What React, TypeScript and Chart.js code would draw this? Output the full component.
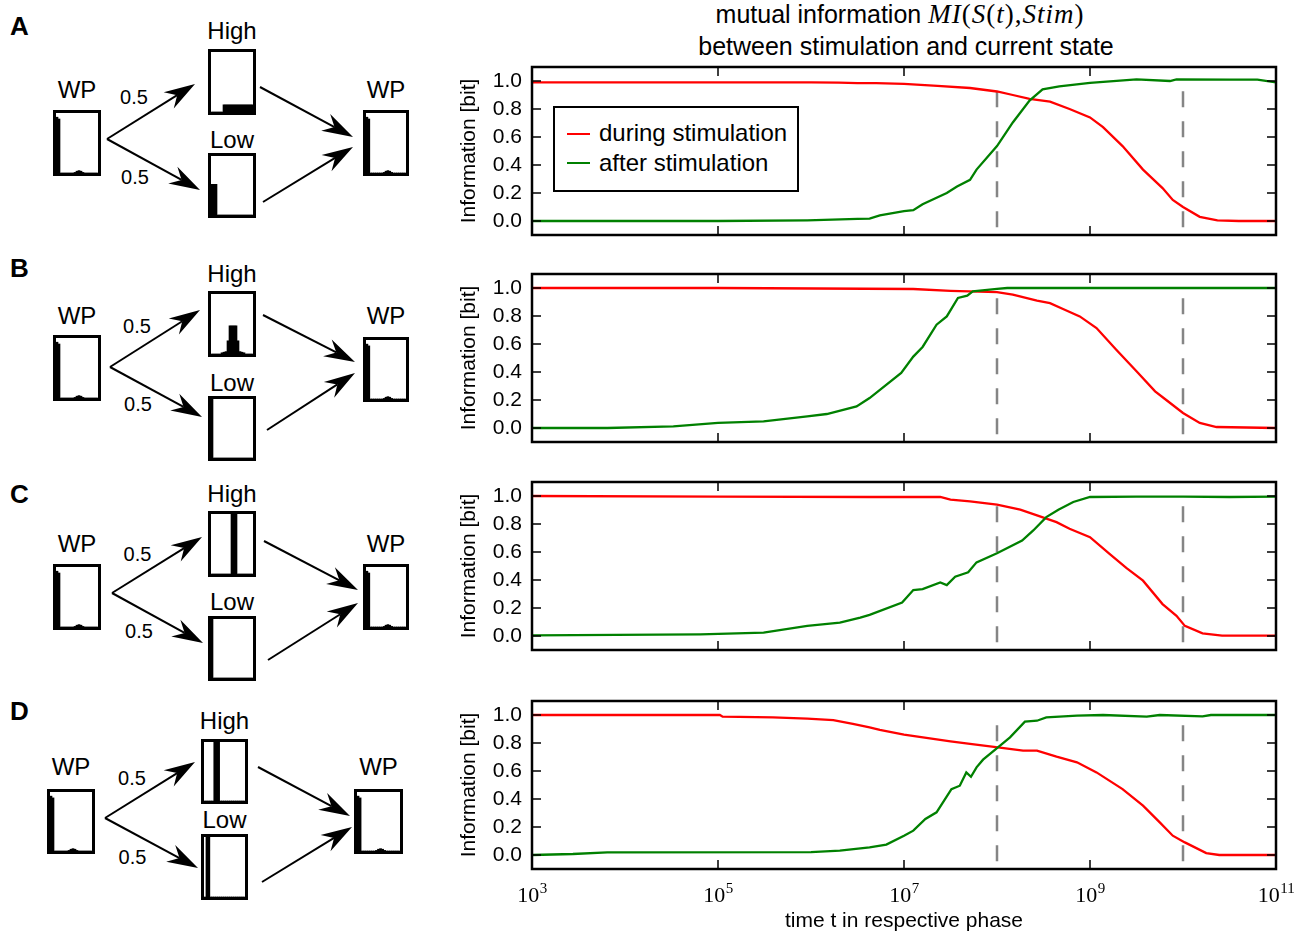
import React, { useEffect, useRef } from 'react';
import { Chart, registerables } from 'chart.js';
Chart.register(...registerables);

const SANS = '"Liberation Sans", Arial, Helvetica, sans-serif';
const SERIF = '"Liberation Serif", "Times New Roman", serif';

// ---------------- data ----------------
const X_TICKS = [1e3, 1e5, 1e7, 1e9, 1e11];
const Y_TICKS = [0, 0.2, 0.4, 0.6, 0.8, 1.0];
const PHASE_MARKS = [1e8, 1e10];
const PHASE_MARK_SPAN = [-0.045, 1.0];

// log10(t) positions and information values
const A_RED_LOGT = [3, 4, 5, 6, 6.3, 6.5, 6.7, 7.0, 7.36, 7.71, 8.0, 8.17, 8.35, 8.57, 8.78, 9.0, 9.14, 9.35, 9.57, 9.78, 9.89, 10.0, 10.18, 10.37, 10.6, 11];
const A_RED = [0.99, 0.99, 0.99, 0.99, 0.988, 0.985, 0.985, 0.98, 0.965, 0.95, 0.925, 0.9, 0.873, 0.853, 0.8, 0.74, 0.67, 0.535, 0.367, 0.235, 0.15, 0.1, 0.03, 0.005, 0.0, 0.0];
const A_GREEN_LOGT = [3, 4, 5, 5.96, 6.5, 6.63, 6.74, 7.0, 7.1, 7.2, 7.46, 7.57, 7.71, 7.78, 8.0, 8.17, 8.35, 8.49, 8.67, 9.0, 9.5, 9.86, 9.93, 10.5, 10.8, 11];
const A_GREEN = [0.0, 0.0, 0.0, 0.005, 0.015, 0.017, 0.04, 0.07, 0.077, 0.12, 0.2, 0.246, 0.294, 0.367, 0.535, 0.704, 0.86, 0.94, 0.962, 0.986, 1.012, 1.0, 1.012, 1.01, 1.01, 0.99];

const B_RED_LOGT = [3, 5, 7.1, 7.5, 8.0, 8.17, 8.43, 8.57, 8.71, 8.89, 9.07, 9.28, 9.5, 9.7, 9.82, 10.0, 10.18, 10.36, 11];
const B_RED = [1.0, 1.0, 0.993, 0.98, 0.971, 0.952, 0.909, 0.892, 0.85, 0.797, 0.714, 0.56, 0.405, 0.262, 0.2, 0.107, 0.036, 0.007, 0.0];
const B_GREEN_LOGT = [3, 3.81, 4.52, 5.0, 5.49, 5.96, 6.17, 6.49, 6.63, 6.97, 7.1, 7.2, 7.35, 7.46, 7.58, 7.68, 7.74, 8.0, 8.11, 11];
const B_GREEN = [0.0, 0.0, 0.012, 0.036, 0.047, 0.083, 0.1, 0.154, 0.214, 0.393, 0.51, 0.579, 0.738, 0.797, 0.929, 0.945, 0.976, 0.993, 1.0, 1.0];

const C_RED_LOGT = [3, 5, 6.63, 7.39, 7.5, 7.71, 8.0, 8.25, 8.43, 8.64, 8.78, 9.0, 9.21, 9.39, 9.57, 9.78, 9.93, 10.02, 10.21, 10.42, 11];
const C_RED = [1.0, 0.995, 0.993, 0.993, 0.974, 0.962, 0.938, 0.902, 0.861, 0.813, 0.766, 0.706, 0.587, 0.486, 0.395, 0.228, 0.144, 0.072, 0.019, 0.003, 0.003];
const C_GREEN_LOGT = [3, 4.81, 5.49, 5.96, 6.31, 6.53, 6.63, 6.98, 7.1, 7.2, 7.39, 7.46, 7.55, 7.69, 7.78, 8.0, 8.27, 8.39, 8.53, 8.66, 8.82, 9.0, 9.5, 10.0, 10.5, 11];
const C_GREEN = [0.005, 0.012, 0.024, 0.072, 0.096, 0.131, 0.151, 0.239, 0.328, 0.335, 0.383, 0.364, 0.424, 0.455, 0.526, 0.591, 0.682, 0.754, 0.849, 0.902, 0.957, 0.993, 0.995, 0.995, 0.993, 0.995];

const D_RED_LOGT = [3, 5.02, 5.05, 5.59, 5.96, 6.24, 6.45, 6.63, 6.74, 7.0, 7.5, 7.71, 8.01, 8.28, 8.43, 8.64, 8.86, 9.07, 9.35, 9.57, 9.75, 9.89, 10.02, 10.25, 10.39, 11];
const D_RED = [1.0, 1.0, 0.988, 0.983, 0.974, 0.964, 0.936, 0.911, 0.893, 0.859, 0.811, 0.793, 0.769, 0.745, 0.745, 0.702, 0.662, 0.59, 0.471, 0.352, 0.233, 0.138, 0.09, 0.014, 0.0, 0.0];
const D_GREEN_LOGT = [3, 3.44, 3.81, 6.0, 6.31, 6.63, 6.81, 7.0, 7.1, 7.23, 7.35, 7.51, 7.6, 7.67, 7.72, 7.78, 7.85, 8.01, 8.14, 8.3, 8.43, 8.53, 8.86, 9.14, 9.61, 9.75, 10.21, 10.3, 11];
const D_GREEN = [0.0, 0.007, 0.019, 0.02, 0.031, 0.054, 0.074, 0.138, 0.174, 0.257, 0.305, 0.471, 0.495, 0.59, 0.559, 0.626, 0.681, 0.769, 0.84, 0.952, 0.959, 0.983, 0.995, 1.0, 0.988, 1.0, 0.99, 1.0, 1.0];

// histograms (21 bins across each state box)
const WP_HIST = [0.93, 0.9, 0, 0, 0, 0, 0, 0, 0, 0.01, 0.03, 0.04, 0.03, 0.01, 0, 0, 0, 0, 0, 0, 0];
const A_HIGH_HIST = [0, 0, 0, 0, 0, 0, 0.12, 0.12, 0.12, 0.12, 0.12, 0.12, 0.12, 0.12, 0.12, 0.12, 0.12, 0.12, 0.12, 0.12, 0.12];
const A_LOW_HIST = [0.52, 0.52, 0.52, 0, 0, 0, 0, 0, 0, 0, 0, 0, 0, 0, 0, 0, 0, 0, 0, 0, 0];
const B_HIGH_HIST = [0, 0, 0, 0, 0, 0.02, 0.03, 0.04, 0.22, 0.47, 0.47, 0.47, 0.47, 0.22, 0.04, 0.03, 0.02, 0, 0, 0, 0];
const B_LOW_HIST = [1, 0, 0, 0, 0, 0, 0, 0, 0, 0, 0, 0, 0, 0, 0, 0, 0, 0, 0, 0, 0];
const C_HIGH_HIST = [0, 0, 0, 0, 0, 0, 0, 0, 0, 0, 1, 1, 1, 0, 0, 0, 0, 0, 0, 0, 0];
const C_LOW_HIST = [1, 0, 0, 0, 0, 0, 0, 0, 0, 0, 0, 0, 0, 0, 0, 0, 0, 0, 0, 0, 0];
const D_HIGH_HIST = [0, 0, 0, 0, 0, 1, 1, 1, 0, 0, 0, 0, 0, 0, 0, 0, 0, 0, 0, 0, 0];
const D_LOW_HIST = [0, 1, 1, 0, 0, 0, 0, 0, 0, 0, 0, 0, 0, 0, 0, 0, 0, 0, 0, 0, 0];

// ---------------- layout ----------------
type Box = [number, number, number, number];
interface Panel {
  letter: string; letterBase: number; chartTop: number;
  red: [number[], number[]]; green: [number[], number[]];
  high: number[]; low: number[];
  wpL: Box; hi: Box; lo: Box; wpR: Box;
  wpBase: number; hiBase: number; loBase: number;
  p1: [number, number]; p2: [number, number];
  arrows: [number, number, number, number][];
}

const PANELS: Panel[] = [
  {
    letter: 'A', letterBase: 35, chartTop: 67,
    red: [A_RED_LOGT, A_RED], green: [A_GREEN_LOGT, A_GREEN], high: A_HIGH_HIST, low: A_LOW_HIST,
    wpL: [53, 110, 48, 66], hi: [208, 49, 48, 66], lo: [208, 153, 48, 65], wpR: [363, 110, 46, 66],
    wpBase: 98, hiBase: 39, loBase: 148, p1: [134, 104], p2: [135, 184],
    arrows: [[107, 139, 195, 84], [107, 139, 200, 190], [260, 87, 353, 137], [263, 202, 353, 147]],
  },
  {
    letter: 'B', letterBase: 277, chartTop: 274,
    red: [B_RED_LOGT, B_RED], green: [B_GREEN_LOGT, B_GREEN], high: B_HIGH_HIST, low: B_LOW_HIST,
    wpL: [53, 335, 48, 66], hi: [208, 291, 48, 66], lo: [208, 396, 48, 65], wpR: [363, 337, 46, 65],
    wpBase: 324, hiBase: 282, loBase: 391, p1: [137, 333], p2: [138, 411],
    arrows: [[110, 367, 200, 310], [110, 367, 202, 417], [263, 315, 355, 362], [267, 430, 355, 373]],
  },
  {
    letter: 'C', letterBase: 503, chartTop: 482,
    red: [C_RED_LOGT, C_RED], green: [C_GREEN_LOGT, C_GREEN], high: C_HIGH_HIST, low: C_LOW_HIST,
    wpL: [53, 564, 48, 66], hi: [208, 511, 48, 66], lo: [208, 616, 48, 65], wpR: [363, 564, 46, 66],
    wpBase: 552, hiBase: 502, loBase: 610, p1: [137.5, 561], p2: [139, 638],
    arrows: [[112, 593, 202, 537], [112, 593, 203, 643], [264, 541, 358, 590], [268, 660, 358, 603]],
  },
  {
    letter: 'D', letterBase: 720, chartTop: 701,
    red: [D_RED_LOGT, D_RED], green: [D_GREEN_LOGT, D_GREEN], high: D_HIGH_HIST, low: D_LOW_HIST,
    wpL: [47, 789, 48, 65], hi: [201, 739, 47, 65], lo: [201, 834, 47, 66], wpR: [354, 789, 49, 65],
    wpBase: 775, hiBase: 729, loBase: 828, p1: [132, 785], p2: [132.5, 864],
    arrows: [[105, 818, 195, 762], [105, 818, 198, 868], [258, 767, 350, 816], [262, 882, 352, 827]],
  },
];

const AREA_H = 168;
const AREA_LEFT_IN_CANVAS = 92;
const CANVAS_LEFT = 440;
const CANVAS_W = 866;

// ---------------- plugins ----------------
const framePlugin = {
  id: 'frameTicks',
  afterDatasetsDraw(chart: any) {
    const { ctx, chartArea: a, scales } = chart;
    const x = scales.x, y = scales.y;
    ctx.save();
    ctx.strokeStyle = '#000';
    ctx.lineWidth = 1.5;
    const tl = 9;
    ctx.beginPath();
    for (const t of x.ticks) {
      const px = x.getPixelForValue(t.value);
      ctx.moveTo(px, a.top); ctx.lineTo(px, a.top + tl);
      ctx.moveTo(px, a.bottom); ctx.lineTo(px, a.bottom - tl);
    }
    for (const t of y.ticks) {
      const py = y.getPixelForValue(t.value);
      ctx.moveTo(a.left, py); ctx.lineTo(a.left + tl, py);
      ctx.moveTo(a.right, py); ctx.lineTo(a.right - tl, py);
    }
    ctx.stroke();
    ctx.lineWidth = 2.5;
    ctx.strokeRect(a.left, a.top, a.right - a.left, a.bottom - a.top);
    ctx.restore();
  },
};

const powerLabelPlugin = {
  id: 'powerLabels',
  afterDraw(chart: any) {
    const { ctx, chartArea: a, scales } = chart;
    const x = scales.x;
    ctx.save();
    ctx.fillStyle = '#000';
    ctx.textBaseline = 'alphabetic';
    ctx.textAlign = 'left';
    for (const t of x.ticks) {
      const exp = String(Math.round(Math.log10(t.value)));
      ctx.font = `22px ${SERIF}`;
      const w1 = ctx.measureText('10').width;
      ctx.font = `15px ${SERIF}`;
      const w2 = ctx.measureText(exp).width;
      const px = x.getPixelForValue(t.value);
      const x0 = px - (w1 + w2) / 2;
      ctx.font = `22px ${SERIF}`;
      ctx.fillText('10', x0, a.bottom + 33);
      ctx.font = `15px ${SERIF}`;
      ctx.fillText(exp, x0 + w1 + 0.5, a.bottom + 24);
    }
    ctx.restore();
  },
};

const boxFramePlugin = {
  id: 'boxFrame',
  afterDraw(chart: any) {
    const { ctx, width, height } = chart;
    ctx.save();
    ctx.strokeStyle = '#000';
    ctx.lineWidth = 3;
    ctx.strokeRect(1.5, 1.5, width - 3, height - 3);
    ctx.restore();
  },
};

// ---------------- components ----------------
function InfoChart({ p, xLabels }: { p: Panel; xLabels: boolean }) {
  const ref = useRef<HTMLCanvasElement>(null);
  const padTop = 10;
  const padBottom = xLabels ? 45 : 10;
  const H = AREA_H + padTop + padBottom;
  useEffect(() => {
    const toPts = (s: [number[], number[]]) => s[0].map((e, i) => ({ x: Math.pow(10, e), y: s[1][i] }));
    const chart = new Chart(ref.current as HTMLCanvasElement, {
      type: 'line',
      data: {
        datasets: [
          { data: toPts(p.green), borderColor: '#008000', borderWidth: 2.3, pointRadius: 0, tension: 0 },
          { data: toPts(p.red), borderColor: '#ff0000', borderWidth: 2.3, pointRadius: 0, tension: 0 },
          ...PHASE_MARKS.map((m) => ({
            data: [{ x: m, y: PHASE_MARK_SPAN[0] }, { x: m, y: PHASE_MARK_SPAN[1] }],
            borderColor: '#858585', borderWidth: 2.5, borderDash: [16, 14], pointRadius: 0,
          })),
        ],
      } as any,
      options: {
        animation: false,
        responsive: false,
        events: [],
        layout: { padding: { top: padTop, bottom: padBottom, left: 0, right: CANVAS_W - AREA_LEFT_IN_CANVAS - 744 } },
        plugins: { legend: { display: false }, tooltip: { enabled: false } },
        scales: {
          x: {
            type: 'logarithmic', min: 1e3, max: 1e11,
            afterBuildTicks: (s: any) => { s.ticks = X_TICKS.map((v) => ({ value: v })); },
            ticks: { display: false },
            grid: { display: false, drawTicks: false },
            border: { display: false },
            afterFit: (s: any) => { s.height = 0; s.paddingLeft = 0; s.paddingRight = 0; },
          },
          y: {
            type: 'linear', min: -0.1, max: 1.1,
            afterBuildTicks: (s: any) => { s.ticks = Y_TICKS.map((v) => ({ value: v })); },
            ticks: {
              autoSkip: false, padding: 10, color: '#000',
              font: { family: SANS, size: 21 },
              callback: (v: any) => Number(v).toFixed(1),
            },
            grid: { display: false, drawTicks: false },
            border: { display: false },
            title: {
              display: true, text: 'Information [bit]', color: '#000',
              font: { family: SANS, size: 21 }, padding: { top: 17, bottom: 0 },
            },
            afterFit: (s: any) => { s.width = AREA_LEFT_IN_CANVAS; s.paddingTop = 0; s.paddingBottom = 0; },
          },
        },
      } as any,
      plugins: xLabels ? [framePlugin, powerLabelPlugin] : [framePlugin],
    });
    return () => chart.destroy();
  }, []);
  return (
    <canvas
      ref={ref}
      width={CANVAS_W}
      height={H}
      style={{ position: 'absolute', left: CANVAS_LEFT, top: p.chartTop - padTop }}
    />
  );
}

function HistBox({ box, values }: { box: Box; values: number[] }) {
  const ref = useRef<HTMLCanvasElement>(null);
  const [l, t, w, h] = box;
  useEffect(() => {
    const chart = new Chart(ref.current as HTMLCanvasElement, {
      type: 'bar',
      data: {
        labels: values.map((_, i) => String(i)),
        datasets: [{ data: values, backgroundColor: '#000', borderWidth: 0, barPercentage: 1, categoryPercentage: 1 }],
      },
      options: {
        animation: false, responsive: false, events: [],
        layout: { padding: 3 },
        plugins: { legend: { display: false }, tooltip: { enabled: false } },
        scales: { x: { display: false }, y: { display: false, min: 0, max: 1 } },
      } as any,
      plugins: [boxFramePlugin],
    });
    return () => chart.destroy();
  }, []);
  return <canvas ref={ref} width={w} height={h} style={{ position: 'absolute', left: l, top: t }} />;
}

function Txt({ x, base, size, children, center = true, family = SANS, weight = 'normal' as any }: any) {
  const asc = family === SERIF ? 0.8375 : 0.8465;
  return (
    <div
      style={{
        position: 'absolute', left: x, top: base - asc * size, fontSize: size, lineHeight: `${size}px`,
        fontFamily: family, fontWeight: weight, whiteSpace: 'nowrap', color: '#000',
        transform: center ? 'translateX(-50%)' : undefined,
      }}
    >
      {children}
    </div>
  );
}

function arrowShape(x1: number, y1: number, x2: number, y2: number, key: string) {
  const dx = x2 - x1, dy = y2 - y1;
  const len = Math.hypot(dx, dy);
  const ux = dx / len, uy = dy / len;
  const px = -uy, py = ux;
  const L = 31, W = 9.5, N = 10;
  const bx = x2 - ux * L, by = y2 - uy * L;
  const nx = x2 - ux * (L - N), ny = y2 - uy * (L - N);
  const pts = `${x2},${y2} ${bx + px * W},${by + py * W} ${nx},${ny} ${bx - px * W},${by - py * W}`;
  return (
    <g key={key}>
      <line x1={x1} y1={y1} x2={nx} y2={ny} stroke="#000" strokeWidth={2} />
      <polygon points={pts} fill="#000" />
    </g>
  );
}

function Diagram({ p }: { p: Panel }) {
  const cx = (b: Box) => b[0] + b[2] / 2;
  return (
    <>
      <Txt x={10} base={p.letterBase} size={26} center={false} weight="bold">{p.letter}</Txt>
      <Txt x={cx(p.wpL)} base={p.wpBase} size={24}>WP</Txt>
      <Txt x={cx(p.wpR)} base={p.wpBase} size={24}>WP</Txt>
      <Txt x={cx(p.hi)} base={p.hiBase} size={24}>High</Txt>
      <Txt x={cx(p.lo)} base={p.loBase} size={24}>Low</Txt>
      <Txt x={p.p1[0]} base={p.p1[1]} size={20}>0.5</Txt>
      <Txt x={p.p2[0]} base={p.p2[1]} size={20}>0.5</Txt>
      <HistBox box={p.wpL} values={WP_HIST} />
      <HistBox box={p.hi} values={p.high} />
      <HistBox box={p.lo} values={p.low} />
      <HistBox box={p.wpR} values={WP_HIST} />
    </>
  );
}

export default function App() {
  return (
    <div style={{ position: 'absolute', left: 0, top: 0, width: 1306, height: 935, background: '#fff', overflow: 'hidden', fontFamily: SANS }}>
      <Txt x={900} base={23} size={25}>
        mutual information{' '}
        <span style={{ fontFamily: SERIF, fontSize: 27, lineHeight: '1px', letterSpacing: 1 }}>
          <i>MI</i>(<i>S</i>(<i>t</i>),<i>Stim</i>)
        </span>
      </Txt>
      <Txt x={906} base={55} size={25}>between stimulation and current state</Txt>

      {PANELS.map((p, i) => (
        <React.Fragment key={p.letter}>
          <Diagram p={p} />
          <InfoChart p={p} xLabels={i === PANELS.length - 1} />
        </React.Fragment>
      ))}

      <svg width={1306} height={935} style={{ position: 'absolute', left: 0, top: 0, pointerEvents: 'none' }}>
        {PANELS.flatMap((p) => p.arrows.map((a, j) => arrowShape(a[0], a[1], a[2], a[3], p.letter + j)))}
      </svg>

      {/* legend of panel A */}
      <div style={{ position: 'absolute', left: 553, top: 106, width: 242, height: 82, border: '2px solid #000', background: '#fff' }} />
      <div style={{ position: 'absolute', left: 567, top: 133, width: 23, height: 2, background: '#ff0000' }} />
      <div style={{ position: 'absolute', left: 567, top: 162, width: 23, height: 2, background: '#008000' }} />
      <Txt x={599} base={141} size={24} center={false}>during stimulation</Txt>
      <Txt x={599} base={171} size={24} center={false}>after stimulation</Txt>

      <Txt x={904} base={927} size={21}>time t in respective phase</Txt>
    </div>
  );
}
